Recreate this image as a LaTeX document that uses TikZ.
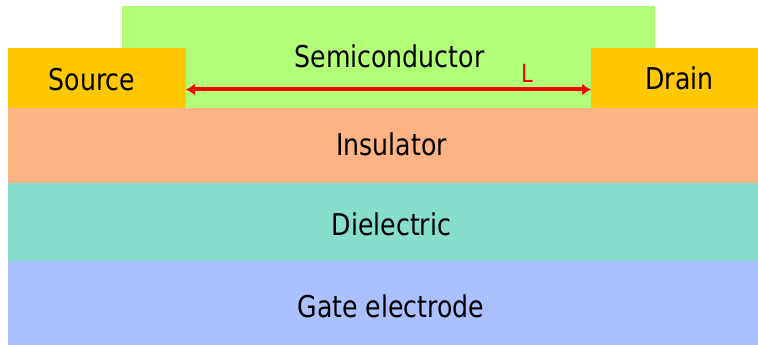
\documentclass[tikz,border=0pt]{standalone}
\usepackage{fontspec}
\setmainfont{DejaVu Sans}[FakeStretch=0.84]
\usetikzlibrary{arrows.meta}
\definecolor{semig}{RGB}{178,255,120}
\definecolor{contact}{RGB}{255,200,0}
\definecolor{insul}{RGB}{253,179,132}
\definecolor{diel}{RGB}{136,222,205}
\definecolor{gatec}{RGB}{170,192,255}
\begin{document}
\begin{tikzpicture}[x=1pt,y=-1pt,
  lbl/.style={anchor=base,inner sep=0pt,font=\fontsize{30}{36}\selectfont,text=black},
  dim/.style={draw=red,line width=4pt,{Latex[length=9pt,width=12pt]}-{Latex[length=9pt,width=12pt]}}]
\useasboundingbox (0,0) rectangle (758,345);
\fill[white] (0,0) rectangle (758,345);
% layers
\fill[semig] (122,6) rectangle (655,108);
\fill[contact] (8,48) rectangle (186,107.5);
\fill[contact] (591,48) rectangle (758,107.5);
\fill[insul] (8,107.5) rectangle (758,183);
\fill[diel] (8,183) rectangle (758,261);
\fill[gatec] (8,261) rectangle (758,345);
% labels
\node[lbl] (semi) at (389.5,67) {Semiconductor};
\node[lbl] (src) at (92,90) {Source};
\node[lbl] (drn) at (679.5,89) {Drain};
\node[lbl] (ins) at (391.5,155) {Insulator};
\node[lbl] (die) at (391.5,235) {Dielectric};
\node[lbl] (gate) at (391,317) {Gate electrode};
% channel length
\coordinate (La) at (186,89.5);
\coordinate (Lb) at (591,89.5);
\draw[dim] (La) -- (Lb);
\node[anchor=base,inner sep=0pt,font=\fontsize{25}{30}\selectfont,text=red] (L) at (527,83) {L};
\end{tikzpicture}
\end{document}
